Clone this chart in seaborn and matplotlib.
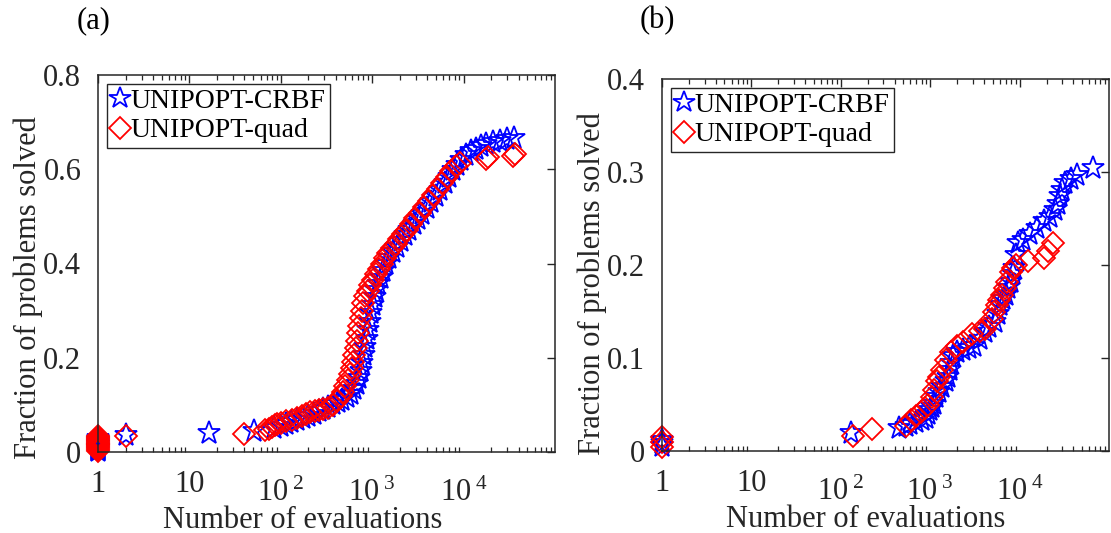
import matplotlib
matplotlib.use("Agg")
import matplotlib.pyplot as plt
import matplotlib.ticker as mticker
import matplotlib.transforms as mtransforms
import seaborn as sns
import pandas as pd

# ---------------- data ----------------
a_crbf_x = [1] * 15 + [2, 16.3, 51,
    85, 100, 115, 130, 150, 175, 200, 230, 260, 290,
    330, 370, 420, 470, 530, 580, 630, 680, 720, 750,
    780, 810, 840, 870, 900, 935, 970, 1010, 1060, 1110,
    1170, 1240, 1320, 1420, 1530, 1680, 1850, 2050, 2300, 2550,
    2850, 3150, 3500, 3950, 4450, 4950, 5500, 6200, 6900, 7700,
    8500, 9300, 10500, 12000, 13500, 15500, 17500, 21000, 25000, 30000,
    36000]
a_crbf_y = [0.002, 0.004, 0.006, 0.008, 0.010, 0.012, 0.014, 0.016, 0.018,
    0.020, 0.022, 0.024, 0.026, 0.028, 0.030,
    0.037, 0.041, 0.045,
    0.050, 0.055, 0.060, 0.064, 0.068, 0.072, 0.076, 0.081, 0.086, 0.091,
    0.096, 0.101, 0.106, 0.111, 0.117, 0.124, 0.133, 0.145, 0.158, 0.172,
    0.188, 0.205, 0.222, 0.240, 0.258, 0.276, 0.294, 0.312, 0.328, 0.343,
    0.357, 0.370, 0.384, 0.398, 0.412, 0.424, 0.436, 0.448, 0.460, 0.472,
    0.484, 0.494, 0.506, 0.518, 0.530, 0.544, 0.557, 0.570, 0.584, 0.598,
    0.610, 0.620, 0.630, 0.638, 0.644, 0.649, 0.653, 0.657, 0.660, 0.664,
    0.667]

a_quad_x = [1] * 17 + [2, 40, 68, 75, 80, 86, 92, 100, 115, 134,
    150, 170, 190, 210, 235, 260, 290, 330, 370, 410,
    450, 480, 510, 540, 570, 600, 620, 640, 660, 680,
    700, 720, 745, 770, 800, 840, 890, 950, 1020, 1100,
    1180, 1270, 1380, 1500, 1640, 1800, 1980, 2180, 2400, 2650,
    2950, 3300, 3700, 4150, 4650, 5200, 5800, 6500, 7300, 8200,
    9100, 17500, 18500, 35000, 36500]
a_quad_y = [0.002, 0.004, 0.006, 0.008, 0.010, 0.012, 0.014, 0.016, 0.018,
    0.020, 0.022, 0.024, 0.026, 0.028, 0.030, 0.032, 0.034,
    0.035, 0.039, 0.046, 0.049, 0.053, 0.057, 0.060, 0.062, 0.065, 0.068,
    0.072, 0.076, 0.080, 0.084, 0.087, 0.089, 0.091, 0.094, 0.100, 0.108,
    0.118, 0.128, 0.140, 0.152, 0.165, 0.178, 0.190, 0.205, 0.220, 0.236,
    0.252, 0.268, 0.284, 0.300, 0.316, 0.330, 0.342, 0.354, 0.365, 0.377,
    0.389, 0.400, 0.411, 0.422, 0.432, 0.442, 0.452, 0.462, 0.472, 0.484,
    0.496, 0.508, 0.520, 0.532, 0.545, 0.558, 0.571, 0.584, 0.596, 0.606,
    0.614, 0.621, 0.626, 0.628, 0.633]

b_crbf_x = [1, 1, 1,
    131, 445, 540, 600, 700, 800, 900, 955, 1000, 1050,
    1100, 1150, 1250, 1350, 1500, 1600, 1650, 1700, 1800, 2000,
    2300, 2700, 3100, 3600, 4060, 4600, 5310, 5700, 6050, 6500,
    6960, 7500, 7970, 8330, 8720, 9120, 9500, 11000, 13200, 15800,
    18700, 22000, 24700, 27000, 28300, 30000, 32400, 38000, 44400, 66500]
b_crbf_y = [0.005, 0.009, 0.012,
    0.019, 0.025, 0.027, 0.029, 0.031, 0.033, 0.036, 0.040, 0.044, 0.047,
    0.051, 0.058, 0.063, 0.069, 0.075, 0.080, 0.087, 0.095, 0.102, 0.106,
    0.109, 0.111, 0.113, 0.120, 0.128, 0.133, 0.139, 0.147, 0.157, 0.163,
    0.168, 0.175, 0.182, 0.190, 0.197, 0.211, 0.224, 0.227, 0.233, 0.240,
    0.247, 0.252, 0.259, 0.266, 0.274, 0.281, 0.288, 0.292, 0.297, 0.304]

b_quad_x = [1, 1, 1,
    137, 222, 533, 610, 700, 795, 880, 955, 1050, 1100,
    1180, 1260, 1370, 1500, 1730, 1970, 2350, 2960, 3600, 4060,
    4860, 5200, 5560, 5950, 6330, 6800, 7260, 7970, 8500, 9120,
    12500, 18700, 20600, 23600]
b_quad_y = [0.004, 0.010, 0.015,
    0.016, 0.024, 0.027, 0.033, 0.038, 0.042, 0.046, 0.049, 0.058, 0.066,
    0.075, 0.080, 0.087, 0.098, 0.106, 0.113, 0.117, 0.126, 0.129, 0.131,
    0.142, 0.150, 0.157, 0.162, 0.168, 0.175, 0.182, 0.193, 0.197, 0.200,
    0.204, 0.208, 0.215, 0.224]

series_names = ["UNIPOPT-CRBF", "UNIPOPT-quad"]
panel_labels = ["(a)", "(b)"]
x_ticks = [1, 10, 100, 1000, 10000]
x_ticklabels = ["1", "10", r"$10^{\ 2}$", r"$10^{\ 3}$", r"$10^{\ 4}$"]
a_yticks = [0, 0.2, 0.4, 0.6, 0.8]
a_yticklabels = ["0", "0.2", "0.4", "0.6", "0.8"]
b_yticks = [0, 0.1, 0.2, 0.3, 0.4]
b_yticklabels = ["0", "0.1", "0.2", "0.3", "0.4"]
x_label = "Number of evaluations"
y_label = "Fraction of problems solved"

# ---------------- style ----------------
sns.set_theme(style="white")
plt.rcParams["font.family"] = ["Liberation Serif", "DejaVu Serif"]
plt.rcParams["mathtext.fontset"] = "custom"
plt.rcParams["mathtext.rm"] = "Liberation Serif"
plt.rcParams["mathtext.it"] = "Liberation Serif:italic"
plt.rcParams["mathtext.bf"] = "Liberation Serif:bold"

GRAY = "#262626"
W, H = 1111, 533
fig = plt.figure(figsize=(W / 100, H / 100), dpi=100)

ax_a = fig.add_axes([98 / W, 1 - 452 / H, (555 - 98) / W, (452 - 75) / H])
ax_b = fig.add_axes([662 / W, 1 - 451 / H, (1109 - 662) / W, (451 - 79) / H])

panels = [
    (ax_a, a_crbf_x, a_crbf_y, a_quad_x, a_quad_y, a_yticks, a_yticklabels, 0.8, 0.447, 0.435),
    (ax_b, b_crbf_x, b_crbf_y, b_quad_x, b_quad_y, b_yticks, b_yticklabels, 0.4, 0.455, 0.450),
]

for i, (ax, cx, cy, qx, qy, yt, ytl, ymax, xl_pos, yl_pos) in enumerate(panels):
    df_c = pd.DataFrame({"x": cx, "y": cy})
    df_q = pd.DataFrame({"x": qx, "y": qy})
    sns.lineplot(data=df_c, x="x", y="y", ax=ax, estimator=None, sort=False,
                 linestyle="none", marker="*", markersize=17,
                 markerfacecolor="none", markeredgecolor="blue",
                 markeredgewidth=1.3, color="blue", label=series_names[0],
                 clip_on=False)
    sns.lineplot(data=df_q, x="x", y="y", ax=ax, estimator=None, sort=False,
                 linestyle="none", marker="D", markersize=11.5,
                 markerfacecolor="none", markeredgecolor="red",
                 markeredgewidth=1.3, color="red", label=series_names[1],
                 clip_on=False)
    ax.set_xscale("log")
    ax.set_xlim(1, 1e5)
    ax.set_ylim(0, ymax)
    ax.set_xticks(x_ticks)
    ax.set_xticklabels(x_ticklabels)
    ax.xaxis.set_minor_locator(mticker.LogLocator(base=10, subs=range(2, 10), numticks=20))
    ax.xaxis.set_minor_formatter(mticker.NullFormatter())
    ax.set_yticks(yt)
    ax.set_yticklabels(ytl)
    ax.tick_params(axis="both", which="major", direction="in", length=6, width=1,
                   colors=GRAY, labelsize=22, top=True, right=True, pad=6)
    ax.tick_params(axis="x", which="minor", direction="in", length=3.5, width=0.9,
                   colors=GRAY, top=True, bottom=True)
    ax.tick_params(axis="x", which="major", pad=13)
    ax.tick_params(axis="y", which="major", pad=12)
    for sp in ax.spines.values():
        sp.set_color(GRAY)
        sp.set_linewidth(1.1)
        sp.set_visible(True)
    ax.set_xlabel(x_label, fontsize=22, color=GRAY, labelpad=-1)
    ax.set_ylabel(y_label, fontsize=22, color=GRAY, labelpad=0)
    ax.xaxis.label.set_x(xl_pos)
    ax.yaxis.label.set_y(yl_pos)
    ax.set_facecolor("white")
    leg = ax.legend(loc="upper left", fontsize=20, frameon=True, fancybox=False,
                    framealpha=1, edgecolor=GRAY, borderaxespad=0.33,
                    handlelength=0.6, handletextpad=0.1, borderpad=0.15,
                    labelspacing=0.15, markerscale=0.95)
    leg.get_frame().set_linewidth(1.0)
    for t in leg.get_texts():
        t.set_color("black")
    x0 = ax.get_position().x0
    fig.text(x0 - 0.004, 1 - 21 / H, panel_labels[i], fontsize=22, ha="center",
             va="center", color="black")
    # MATLAB-style: power-of-ten labels sit lower than "1" and "10"
    shift = mtransforms.ScaledTranslation(0, -6 / 72, fig.dpi_scale_trans)
    for tick in ax.xaxis.get_major_ticks()[2:]:
        tick.label1.set_transform(tick.label1.get_transform() + shift)

fig.savefig("out.png", dpi=100)
